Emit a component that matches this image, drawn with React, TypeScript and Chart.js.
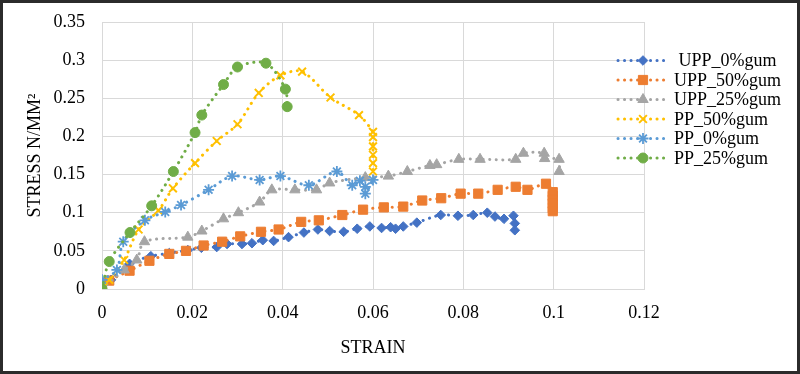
import React, { useEffect, useRef } from "react";
import { Chart, registerables } from "chart.js";
import { drawPoint } from "chart.js/helpers";

Chart.register(...registerables);

// ---- data (strain, stress) ----
const seriesNames = [" UPP_0%gum", "UPP_50%gum", "UPP_25%gum", "PP_50%gum", "PP_0%gum", "PP_25%gum"];
const seriesColors = ["#4472C4", "#ED7D31", "#A5A5A5", "#FFC000", "#5B9BD5", "#70AD47"];

const upp0Strain = [0, 0.002, 0.0061, 0.0108, 0.0149, 0.019, 0.022, 0.0254, 0.0277, 0.031, 0.0332, 0.0356, 0.038, 0.0413, 0.0447, 0.0478, 0.0504, 0.0535, 0.0565, 0.0593, 0.0619, 0.0639, 0.065, 0.0667, 0.0697, 0.075, 0.0788, 0.0822, 0.0853, 0.087, 0.089, 0.0911, 0.0914, 0.0914];
const upp0Stress = [0, 0.012, 0.033, 0.043, 0.047, 0.051, 0.054, 0.055, 0.059, 0.059, 0.06, 0.064, 0.063, 0.068, 0.074, 0.078, 0.076, 0.075, 0.079, 0.082, 0.08, 0.081, 0.079, 0.082, 0.087, 0.097, 0.096, 0.097, 0.1, 0.095, 0.092, 0.096, 0.086, 0.077];

const upp50Strain = [0, 0.0016, 0.0061, 0.0105, 0.0149, 0.0186, 0.0225, 0.0266, 0.0306, 0.0352, 0.0391, 0.0441, 0.048, 0.0532, 0.0578, 0.0624, 0.0667, 0.0709, 0.0751, 0.0794, 0.0833, 0.0876, 0.0916, 0.0942, 0.0983, 0.0998, 0.0998, 0.0998, 0.0998, 0.0998, 0.0998];
const upp50Stress = [0, 0.011, 0.024, 0.037, 0.046, 0.05, 0.057, 0.062, 0.069, 0.075, 0.078, 0.088, 0.09, 0.097, 0.104, 0.107, 0.108, 0.116, 0.119, 0.125, 0.125, 0.13, 0.134, 0.13, 0.138, 0.127, 0.122, 0.117, 0.112, 0.106, 0.102];

const upp25Strain = [0, 0.0049, 0.0077, 0.0094, 0.019, 0.0221, 0.0269, 0.0302, 0.0349, 0.0376, 0.0427, 0.0475, 0.0504, 0.0583, 0.0634, 0.0676, 0.0726, 0.0741, 0.079, 0.0837, 0.0916, 0.0933, 0.0979, 0.098, 0.1012, 0.1012];
const upp25Stress = [0, 0.025, 0.038, 0.062, 0.068, 0.076, 0.092, 0.1, 0.114, 0.13, 0.13, 0.13, 0.139, 0.146, 0.148, 0.154, 0.162, 0.163, 0.17, 0.17, 0.17, 0.178, 0.178, 0.171, 0.17, 0.154];

const pp50Strain = [0, 0.0016, 0.0049, 0.0081, 0.0125, 0.0157, 0.0206, 0.0254, 0.03, 0.0347, 0.0395, 0.0443, 0.0506, 0.0569, 0.06, 0.06, 0.06, 0.06, 0.06, 0.06];
const pp50Stress = [0, 0.012, 0.038, 0.078, 0.103, 0.132, 0.165, 0.194, 0.216, 0.257, 0.28, 0.285, 0.251, 0.228, 0.206, 0.199, 0.187, 0.176, 0.165, 0.154];

const pp0Strain = [0, 0.0033, 0.0047, 0.0095, 0.014, 0.0175, 0.0236, 0.0288, 0.0349, 0.0395, 0.0458, 0.052, 0.0554, 0.0571, 0.0583, 0.0583, 0.06];
const pp0Stress = [0.012, 0.025, 0.062, 0.09, 0.101, 0.11, 0.13, 0.148, 0.143, 0.148, 0.136, 0.154, 0.136, 0.142, 0.134, 0.125, 0.143];

const pp25Strain = [0, 0.0016, 0.0062, 0.011, 0.0158, 0.0206, 0.0221, 0.0269, 0.03, 0.0363, 0.0406, 0.041];
const pp25Stress = [0, 0.036, 0.074, 0.109, 0.154, 0.205, 0.228, 0.268, 0.291, 0.296, 0.262, 0.239];

const xTicks = [0, 0.02, 0.04, 0.06, 0.08, 0.1, 0.12];
const yTicks = [0, 0.05, 0.1, 0.15, 0.2, 0.25, 0.3, 0.35];

const strains = [upp0Strain, upp50Strain, upp25Strain, pp50Strain, pp0Strain, pp25Strain];
const stresses = [upp0Stress, upp50Stress, upp25Stress, pp50Stress, pp0Stress, pp25Stress];

const pointStyles = ["rectRot", "rect", "triangle", "crossRot", "star", "circle"];
const pointRadii = [4.8, 6.5, 6, 5.5, 5.5, 5];
const pointBorderWidths = [1, 1, 1, 2, 1.8, 1];

const FONT = "'Liberation Serif', 'Times New Roman', serif";
const DASH = [0.1, 6.4];

const legendPlugin = {
  id: "customLegend",
  afterDraw(chart: any) {
    const ctx = chart.ctx;
    const area = chart.chartArea;
    const x0 = area.right - 26;
    const x1 = area.right + 23;
    const mx = area.right - 1;
    const tx = area.right + 30;
    const startY = 60.5;
    const step = 19.5;
    ctx.save();
    chart.data.datasets.forEach((ds: any, i: number) => {
      const y = startY + i * step;
      ctx.save();
      ctx.strokeStyle = ds.borderColor;
      ctx.lineWidth = 3;
      ctx.lineCap = "round";
      ctx.setLineDash(DASH);
      ctx.beginPath();
      ctx.moveTo(x0, y);
      ctx.lineTo(x1, y);
      ctx.stroke();
      ctx.restore();
      ctx.save();
      ctx.fillStyle = ds.backgroundColor;
      ctx.strokeStyle = ds.borderColor;
      ctx.lineWidth = ds.pointBorderWidth;
      drawPoint(ctx, { pointStyle: ds.pointStyle, radius: ds.pointRadius, borderWidth: ds.pointBorderWidth, rotation: 0 }, mx, y);
      ctx.restore();
      ctx.fillStyle = "#000000";
      ctx.font = `18px ${FONT}`;
      ctx.textBaseline = "middle";
      ctx.textAlign = "left";
      ctx.fillText(ds.label, tx, y + 1);
    });
    ctx.restore();
  },
};

const framePlugin = {
  id: "frame",
  afterDraw(chart: any) {
    const ctx = chart.ctx;
    ctx.save();
    ctx.strokeStyle = "#2b2b2b";
    ctx.lineWidth = 3;
    ctx.strokeRect(1.5, 1.5, chart.width - 3, chart.height - 3);
    ctx.restore();
  },
};

export default function App() {
  const ref = useRef<HTMLCanvasElement | null>(null);

  useEffect(() => {
    document.body.style.margin = "0";
    if (!ref.current) return;
    const datasets = seriesNames.map((name, i) => ({
      label: name,
      data: strains[i].map((x, j) => ({ x, y: stresses[i][j] })),
      borderColor: seriesColors[i],
      backgroundColor: seriesColors[i],
      pointBackgroundColor: seriesColors[i],
      pointBorderColor: seriesColors[i],
      borderWidth: 3,
      borderDash: DASH,
      borderCapStyle: "round",
      pointStyle: pointStyles[i],
      pointRadius: pointRadii[i],
      pointBorderWidth: pointBorderWidths[i],
      tension: 0.3,
      showLine: true,
      fill: false,
      order: 6 - i,
    }));
    const chart = new Chart(ref.current, {
      type: "scatter",
      data: { datasets: datasets as any },
      options: {
        animation: false,
        responsive: false,
        maintainAspectRatio: false,
        layout: { padding: { left: 0, right: 156, top: 22, bottom: 0 } },
        plugins: { legend: { display: false }, tooltip: { enabled: false } },
        scales: {
          x: {
            type: "linear",
            min: 0,
            max: 0.12,
            afterFit(scale: any) {
              scale.height = 85;
              scale.paddingLeft = 0;
              scale.paddingRight = 0;
            },
            afterBuildTicks(scale: any) {
              scale.ticks = xTicks.map((v) => ({ value: v }));
            },
            ticks: {
              padding: 13,
              color: "#000",
              font: { family: FONT, size: 18 },
              maxRotation: 0,
              callback: (v: any) => String(v),
            },
            grid: { color: "#D9D9D9", lineWidth: 1, drawTicks: false },
            border: { display: true, color: "#D9D9D9" },
            title: {
              display: true,
              text: "STRAIN",
              color: "#000",
              font: { family: FONT, size: 18 },
              padding: { top: 0, bottom: 15 },
            },
          },
          y: {
            type: "linear",
            min: 0,
            max: 0.35,
            afterFit(scale: any) {
              scale.width = 102;
              scale.paddingTop = 0;
              scale.paddingBottom = 0;
            },
            afterBuildTicks(scale: any) {
              scale.ticks = yTicks.map((v) => ({ value: v }));
            },
            ticks: {
              padding: 17,
              color: "#000",
              font: { family: FONT, size: 18 },
              callback: (v: any) => String(v),
            },
            grid: { color: "#D9D9D9", lineWidth: 1, drawTicks: false },
            border: { display: true, color: "#D9D9D9" },
            title: {
              display: true,
              text: "STRESS N/MM²",
              color: "#000",
              font: { family: FONT, size: 18 },
              padding: { top: 24, bottom: 0 },
            },
          },
        },
      },
      plugins: [legendPlugin, framePlugin],
    });
    return () => chart.destroy();
  }, []);

  return (
    <div style={{ width: 800, height: 374, background: "#fff" }}>
      <canvas ref={ref} width={800} height={374} style={{ display: "block", width: 800, height: 374 }} />
    </div>
  );
}
